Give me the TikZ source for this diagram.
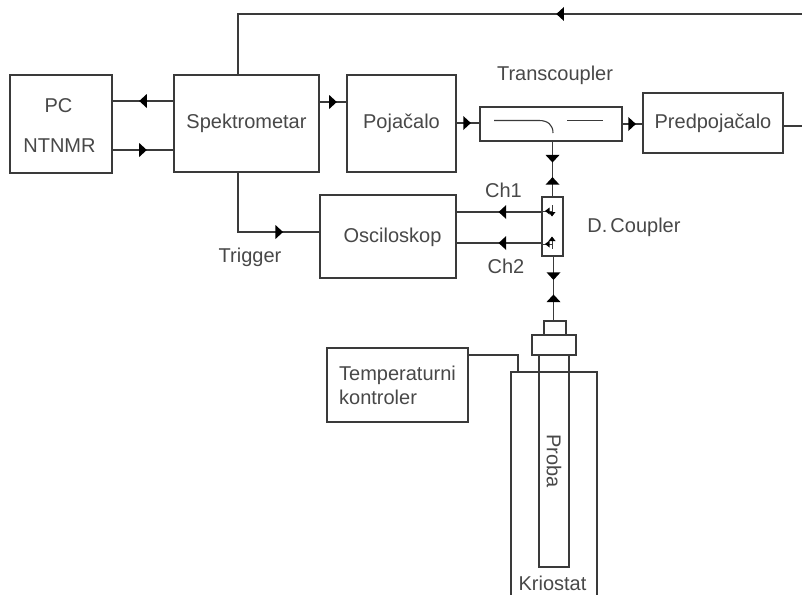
\documentclass[tikz,border=0pt]{standalone}
\usepackage{fontspec}
\setmainfont{Liberation Sans}
\usetikzlibrary{decorations.markings}
\definecolor{ln}{HTML}{3A3A3A}
\definecolor{tx}{HTML}{484848}
\tikzset{
  x=1pt,y=-1pt,
  ln/.style={draw=ln,line width=1.2pt},
  blk/.style={ln,rectangle,inner sep=0pt,text=tx,font=\fontsize{20}{24}\selectfont,align=center},
  lbl/.style={text=tx,font=\fontsize{20}{24}\selectfont,inner sep=0pt},
  tipf/.style={postaction={decorate,decoration={markings,mark=at position #1 with {\fill[black] (3.8,0)--(-3.8,7)--(-3.8,-7)--cycle;}}}},
  tipb/.style={postaction={decorate,decoration={markings,mark=at position #1 with {\fill[black] (-3.8,0)--(3.8,7)--(3.8,-7)--cycle;}}}},
}
\begin{document}
\begin{tikzpicture}
\useasboundingbox (0,0) rectangle (802,594);
\fill[white] (0,0) rectangle (802,594);
% main blocks
\node[blk,minimum width=102pt,minimum height=98pt] (pc) at (61,124) {};
\node[blk,minimum width=145pt,minimum height=97pt] (spek) at (246.5,123.5) {Spektrometar};
\node[blk,minimum width=109pt,minimum height=97pt] (poj) at (401.5,123.5) {Pojačalo};
\node[blk,minimum width=142pt,minimum height=34pt] (trans) at (551,124) {};
\node[blk,minimum width=140pt,minimum height=60pt] (pred) at (713,123) {Predpojačalo};
\node[blk,minimum width=136pt,minimum height=83pt] (osc) at (388,236.5) {};
\node[blk,minimum width=21pt,minimum height=59pt] (dc) at (552.5,226.5) {};
\node[blk,minimum width=141pt,minimum height=74pt] (temp) at (397.5,385) {};
% cryostat and probe
\node[blk,minimum width=86pt,minimum height=226pt] (krio) at (554,485) {};
\node[blk,minimum width=30pt,minimum height=212pt] (proba) at (554,461) {};
\node[blk,fill=white,minimum width=44pt,minimum height=20pt] (flange) at (554,345) {};
\node[blk,fill=white,minimum width=22pt,minimum height=14pt] (cap) at (555,328) {};
\draw[ln] (krio.north west) -- (krio.north east);
\node[lbl,rotate=-90] (probat) at (554,461) {Proba};
\node[lbl] (kriot) at (552.5,583) {Kriostat};
% labels
\node[lbl] (pct) at (58.5,106) {PC};
\node[lbl] (ntnmr) at (59.5,146) {NTNMR};
\node[lbl] (osct) at (392.5,237) {Osciloskop};
\node[lbl,align=left] (tempt) at (397.5,385) {Temperaturni\\kontroler};
\node[lbl] (transt) at (555,75) {Transcoupler};
\node[lbl] (ch1) at (503.5,190) {Ch1};
\node[lbl] (ch2) at (506,266) {Ch2};
\node[lbl] (dct) at (634,227) {D.\kern3pt Coupler};
\node[lbl] (trig) at (250,257) {Trigger};
% coordinates
\coordinate (tr) at (802,14);
\coordinate (pr) at (802,126);
% connectors
\draw[ln,tipf=.5] (spek.west |- 0,101) -- (pc.east |- 0,101);
\draw[ln,tipf=.5] (pc.east |- 0,150) -- (spek.west |- 0,150);
\draw[ln,tipf=.5] (spek.east |- 0,102) -- (poj.west |- 0,102);
\draw[ln,tipf=.46] (poj.east |- 0,123) -- (trans.west |- 0,123);
\draw[ln,tipf=.48] (trans.east |- 0,124) -- (pred.west |- 0,124);
\draw[ln] (pred.east |- pr) -- (pr);
\draw[ln,tipf=.387] (tr) -- (238,14) -- (238,75);
\draw[ln,tipf=.716] (238,172) -- (238,232) -- (osc.west |- 0,232);
\draw[ln,tipf=.46] (dc.west |- 0,212) -- (osc.east |- 0,212);
\draw[ln,tipf=.46] (dc.west |- 0,243) -- (osc.east |- 0,243);
\draw[ln,tipf=.32,tipb=.72] (552.5,141) -- (dc.north);
\draw[ln,tipf=.31,tipb=.65] (553.5,256) -- (553.5,321);
\draw[ln] (temp.east |- 0,355) -- (518,355) -- (518,371);
% transcoupler interior
\draw[ln,line width=1.1pt] (494,120.5) -- (539,120.5) .. controls (548,120.5) and (553,125) .. (553,133);
\draw[ln,line width=1.1pt] (567,120.5) -- (603,120.5);
% directional coupler interior
\draw[ln,line width=.9pt] (542,211) -- (552,211);
\draw[ln,line width=.9pt] (552,205) -- (552,213);
\fill[black] (552,216.5)--(548.5,212)--(555.5,212)--cycle;
\fill[black] (545,211)--(549.5,207.5)--(549.5,214.5)--cycle;
\draw[ln,line width=.9pt] (542,244) -- (552,244);
\draw[ln,line width=.9pt] (552,240) -- (552,249);
\fill[black] (552,236.5)--(548.5,241)--(555.5,241)--cycle;
\fill[black] (545,244)--(549.5,240.5)--(549.5,247.5)--cycle;
\end{tikzpicture}
\end{document}
